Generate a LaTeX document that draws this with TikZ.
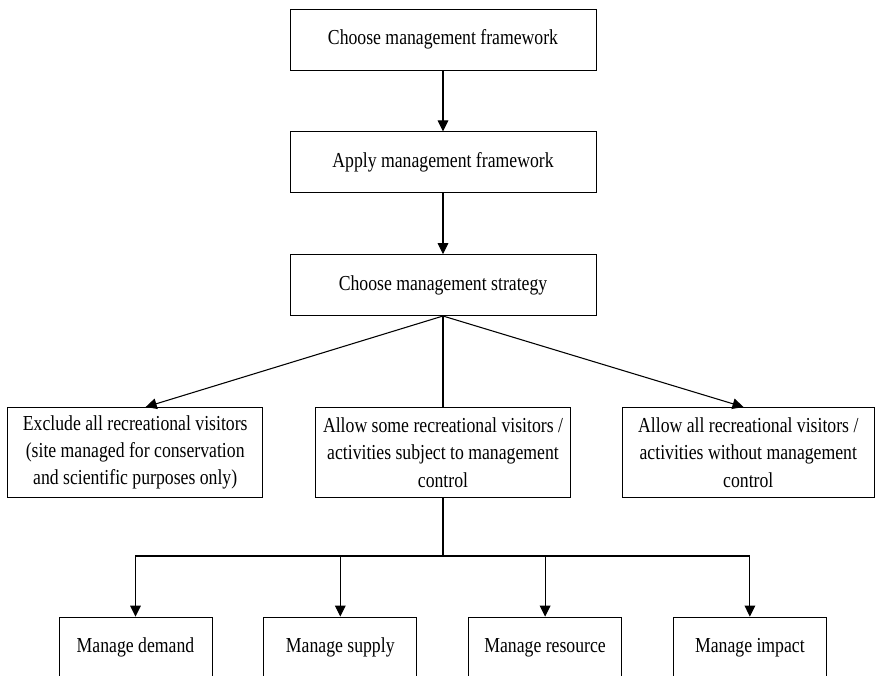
\documentclass[tikz,border=0pt]{standalone}
\usepackage{fontspec}
\setmainfont[FakeStretch=0.83]{Liberation Serif}
\usetikzlibrary{arrows.meta,positioning}

\begin{document}
\begin{tikzpicture}[x=0.75pt, y=-0.75pt, node distance=45.75pt,
  every node/.style={font=\fontsize{16}{20.5}\selectfont},
  stage/.style={draw, line width=0.6pt, align=center, inner sep=2pt, minimum width=229.5pt, minimum height=45.75pt},
  option/.style={draw, line width=0.6pt, align=center, inner sep=2pt, minimum width=191.25pt, minimum height=67.5pt},
  tactic/.style={draw, line width=0.6pt, align=center, inner sep=2pt, minimum width=114.75pt, minimum height=45.75pt},
  link/.style={-{Triangle[length=8.25pt,width=8pt]}, line width=0.8pt}]
\clip (0,0) rectangle (875,675);
% planning chain
\node[stage] (choose) at (443,39.5) {Choose management framework};
\node[stage, below=of choose] (apply) {Apply management framework};
\node[stage, below=of apply] (strategy) {Choose management strategy};
% strategy options
\node[option, below=68.25pt of strategy] (some)
  {Allow some recreational visitors /\\ activities subject to management\\ control};
\node[option, left=39pt of some] (exclude)
  {Exclude all recreational visitors\\ (site managed for conservation\\ and scientific purposes only)};
\node[option, minimum width=189pt, right=38.25pt of some] (allc)
  {Allow all recreational visitors /\\ activities without management\\ control};
% management tactics
\node[tactic] (demand) at (135.5,647.5) {Manage demand};
\node[tactic, right=38.25pt of demand] (supply) {Manage supply};
\node[tactic, right=38.25pt of supply] (resource) {Manage resource};
\node[tactic, right=38.25pt of resource] (impact) {Manage impact};
\coordinate (fork) at (443,556);
\draw[link] (choose) -- (apply);
\draw[link] (apply) -- (strategy);
\draw[link] (strategy.south) -- (exclude.77);
\draw[link] (strategy.south) -- (allc.96);
\draw[line width=0.8pt] (strategy.south) -- (some.north);
\draw[line width=0.8pt] (some.south) -- (fork);
\foreach \t in {demand,supply,resource,impact}
  \draw[link] (fork) -| (\t.north);
\end{tikzpicture}
\end{document}
